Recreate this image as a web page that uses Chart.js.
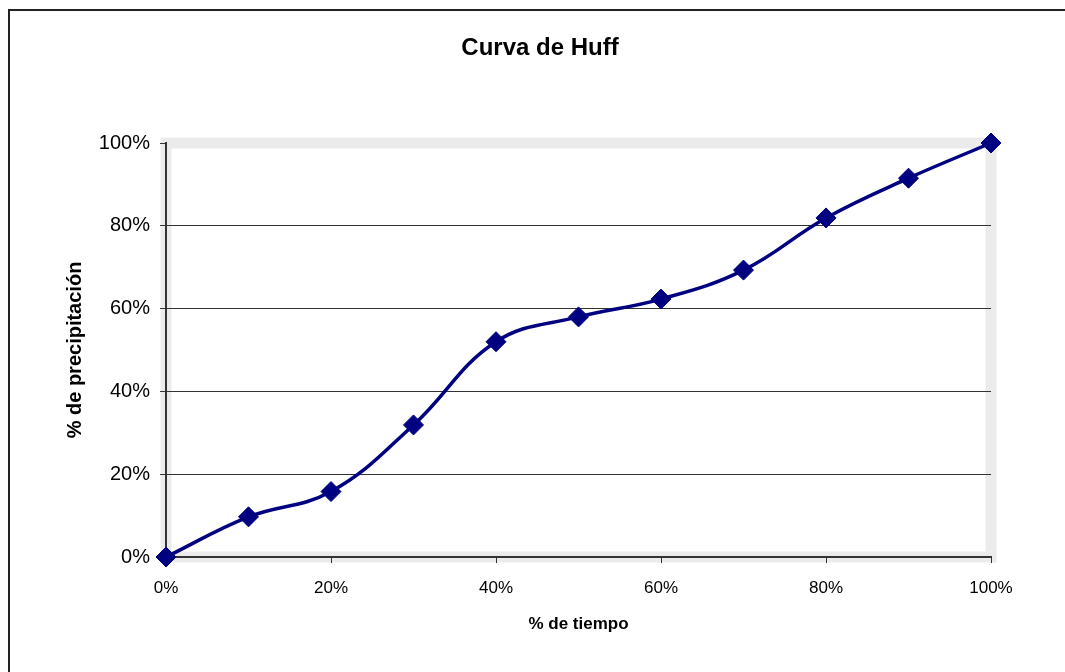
<!DOCTYPE html>
<html>
<head>
<meta charset="utf-8">
<script src="https://cdn.jsdelivr.net/npm/chart.js@4/dist/chart.umd.min.js"></script>
<style>
  html, body { margin: 0; padding: 0; background: #fff; }
  #wrap { width: 1065px; height: 672px; }
</style>
</head>
<body>
<div id="wrap"><canvas id="huff-chart"></canvas></div>
<script>
// % de tiempo (x) y % de precipitación (y)
var tiempo = [0, 10, 20, 30, 40, 50, 60, 70, 80, 90, 100];
var precipitacion = [0, 9.7, 15.8, 31.9, 52.0, 58.0, 62.3, 69.3, 81.9, 91.5, 100];

var puntos = tiempo.map(function (t, i) { return { x: t, y: precipitacion[i] }; });

var font = 'Liberation Sans, Arial, sans-serif';

// marco gris del área de trazado + borde exterior
var marco = {
    id: 'marco',
    beforeDraw: function (chart) {
        var ctx = chart.ctx;
        var a = chart.chartArea;
        ctx.save();
        ctx.fillStyle = '#fff';
        ctx.fillRect(0, 0, chart.width, chart.height);
        ctx.strokeStyle = '#222';
        ctx.lineWidth = 2;
        ctx.beginPath();
        ctx.moveTo(9, chart.height + 5);
        ctx.lineTo(9, 10);
        ctx.lineTo(chart.width + 5, 10);
        ctx.stroke();
        ctx.strokeStyle = '#ebebeb';
        ctx.lineWidth = 11;
        ctx.strokeRect(a.left, a.top, a.right - a.left, a.bottom - a.top);
        ctx.restore();
    }
};

var layout = {
    type: 'line',
    data: {
        datasets: [{
            label: 'Curva de Huff',
            data: puntos,
            borderColor: '#000080',
            backgroundColor: '#000080',
            borderWidth: 3.5,
            tension: 0.4,
            pointStyle: 'rectRot',
            pointRadius: 10,
            pointHoverRadius: 10,
            pointBorderWidth: 1,
            clip: false
        }]
    },
    options: {
        responsive: true,
        maintainAspectRatio: false,
        animation: false,
        layout: {
            padding: { left: 15, right: 0, top: 0, bottom: 0 }
        },
        plugins: {
            legend: { display: false },
            tooltip: { enabled: false },
            title: {
                display: true,
                text: 'Curva de Huff',
                color: '#000',
                font: { family: font, size: 24, weight: 'bold' },
                padding: { top: 33.6, bottom: 80.6 }
            }
        },
        scales: {
            x: {
                type: 'linear',
                min: 0,
                max: 100,
                afterFit: function (s) { s.height = 115; },
                ticks: {
                    stepSize: 20,
                    color: '#000',
                    padding: 15,
                    maxRotation: 0,
                    font: { family: font, size: 17 },
                    callback: function (v) { return v + '%'; }
                },
                grid: {
                    drawOnChartArea: false,
                    tickLength: 6,
                    tickColor: '#333'
                },
                border: { display: true, color: '#333', width: 2 },
                title: {
                    display: true,
                    text: '% de tiempo',
                    color: '#000',
                    font: { family: font, size: 17, weight: 'bold' },
                    padding: { top: 0, bottom: 37 }
                }
            },
            y: {
                min: 0,
                max: 100,
                afterFit: function (s) { s.width = 151; },
                ticks: {
                    stepSize: 20,
                    color: '#000',
                    padding: 10,
                    font: { family: font, size: 20 },
                    callback: function (v) { return v + '%'; }
                },
                grid: {
                    color: function (c) { return c.tick && c.tick.value === 100 ? 'rgba(0,0,0,0)' : '#333'; },
                    lineWidth: 1,
                    tickLength: 6,
                    tickColor: '#333'
                },
                border: { display: true, color: '#333', width: 2 },
                title: {
                    display: true,
                    text: '% de precipitación',
                    color: '#000',
                    font: { family: font, size: 20, weight: 'bold' },
                    padding: { top: 48, bottom: 0 }
                }
            },
            derecha: {
                position: 'right',
                min: 0,
                max: 100,
                afterFit: function (s) { s.width = 74; },
                ticks: { display: false },
                grid: { display: false },
                border: { display: false }
            }
        }
    },
    plugins: [marco]
};

new Chart(document.getElementById('huff-chart'), layout);
</script>
</body>
</html>
